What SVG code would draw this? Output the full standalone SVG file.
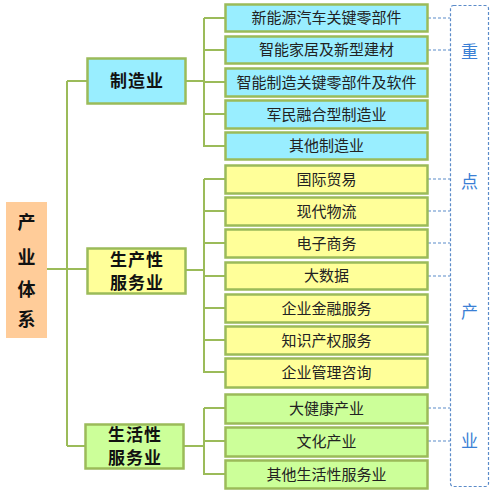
<svg xmlns="http://www.w3.org/2000/svg" width="494" height="495" viewBox="0 0 494 495">
<style>
.leaf{stroke:#9BBB59;stroke-width:2.5}
.c{fill:#99EEFF}.y{fill:#FFFF99}.g{fill:#CCFF99}
.t{font-family:"Noto Sans CJK SC","Noto Sans",sans-serif;font-size:15px;fill:#222;text-anchor:middle}
.cat{font-family:"Noto Sans CJK SC",sans-serif;font-size:17px;font-weight:bold;fill:#111;text-anchor:middle;letter-spacing:1px}
.root{font-family:"Noto Sans CJK SC",sans-serif;font-size:18px;font-weight:bold;fill:#111;text-anchor:middle}
.blue{font-family:"Noto Sans CJK SC",sans-serif;font-size:17px;fill:#3A7FD5;text-anchor:middle}
.ln{stroke:#9BBB59;stroke-width:2;fill:none}
.dl{stroke:#5B8BC9;stroke-width:1.2;stroke-dasharray:3,2;fill:none}
</style>
<rect width="494" height="495" fill="#fff"/>
<g id="connectors">
<path class="ln" d="M47 269H87 M67 81V446 M67 81H87 M67 446H85"/>
<path class="ln" d="M186 81H204 M204 18V147 M204 18H225 M204 50H225 M204 82H225 M204 114H225 M204 146H225"/>
<path class="ln" d="M186 270H204 M204 179V373 M204 179H225 M204 211H225 M204 243H225 M204 276H225 M204 308H225 M204 340H225 M204 372H225"/>
<path class="ln" d="M184 446H204 M204 408V475 M204 408H225 M204 441H225 M204 474H225"/>
<path class="dl" d="M428 18H450 M428 50H450 M428 179H450 M428 211H450 M428 243H450 M428 276H450 M428 408H450 M428 441H450"/>
</g>
<g id="root"><rect x="6" y="202" width="41" height="136" fill="#FFCC99"/>
<text class="root" x="26.5" y="229">产</text><text class="root" x="26.5" y="264">业</text><text class="root" x="26.5" y="296">体</text><text class="root" x="26.5" y="326">系</text></g>
<g id="cat1"><rect class="leaf c" x="87.5" y="58.5" width="98" height="45"/><text class="cat" x="137" y="87">制造业</text></g>
<g id="cat2"><rect class="leaf y" x="87.5" y="248.5" width="98" height="45"/><text class="cat" x="137" y="266">生产性</text><text class="cat" x="137" y="289">服务业</text></g>
<g id="cat3"><rect class="leaf g" x="85.5" y="424.5" width="98" height="44"/><text class="cat" x="135" y="441">生活性</text><text class="cat" x="135" y="464">服务业</text></g>
<g id="l1"><rect class="leaf c" x="225.5" y="4.5" width="202" height="27"/><text class="t" x="326.5" y="23">新能源汽车关键零部件</text></g>
<g id="l2"><rect class="leaf c" x="225.5" y="36.5" width="202" height="27"/><text class="t" x="326.5" y="55">智能家居及新型建材</text></g>
<g id="l3"><rect class="leaf c" x="225.5" y="68.5" width="202" height="28"/><text class="t" x="326.5" y="87.5">智能制造关键零部件及软件</text></g>
<g id="l4"><rect class="leaf c" x="225.5" y="100.5" width="202" height="28"/><text class="t" x="326.5" y="119.5">军民融合型制造业</text></g>
<g id="l5"><rect class="leaf c" x="225.5" y="132.5" width="202" height="27"/><text class="t" x="326.5" y="151">其他制造业</text></g>
<g id="l6"><rect class="leaf y" x="225.5" y="165.5" width="202" height="28"/><text class="t" x="326.5" y="184.5">国际贸易</text></g>
<g id="l7"><rect class="leaf y" x="225.5" y="197.5" width="202" height="28"/><text class="t" x="326.5" y="216.5">现代物流</text></g>
<g id="l8"><rect class="leaf y" x="225.5" y="229.5" width="202" height="28"/><text class="t" x="326.5" y="248.5">电子商务</text></g>
<g id="l9"><rect class="leaf y" x="225.5" y="262.5" width="202" height="27"/><text class="t" x="326.5" y="281">大数据</text></g>
<g id="l10"><rect class="leaf y" x="225.5" y="294.5" width="202" height="28"/><text class="t" x="326.5" y="313.5">企业金融服务</text></g>
<g id="l11"><rect class="leaf y" x="225.5" y="326.5" width="202" height="28"/><text class="t" x="326.5" y="345.5">知识产权服务</text></g>
<g id="l12"><rect class="leaf y" x="225.5" y="358.5" width="202" height="29"/><text class="t" x="326.5" y="378">企业管理咨询</text></g>
<g id="l13"><rect class="leaf g" x="225.5" y="394.5" width="202" height="29"/><text class="t" x="326.5" y="414">大健康产业</text></g>
<g id="l14"><rect class="leaf g" x="225.5" y="427.5" width="202" height="29"/><text class="t" x="326.5" y="447">文化产业</text></g>
<g id="l15"><rect class="leaf g" x="225.5" y="460.5" width="202" height="28"/><text class="t" x="326.5" y="480">其他生活性服务业</text></g>
<g id="focus"><rect class="dl" x="450.5" y="5.5" width="38" height="481" rx="3"/>
<text class="blue" x="469.5" y="58">重</text><text class="blue" x="469.5" y="188">点</text><text class="blue" x="469.5" y="318">产</text><text class="blue" x="469.5" y="447">业</text></g>
</svg>
